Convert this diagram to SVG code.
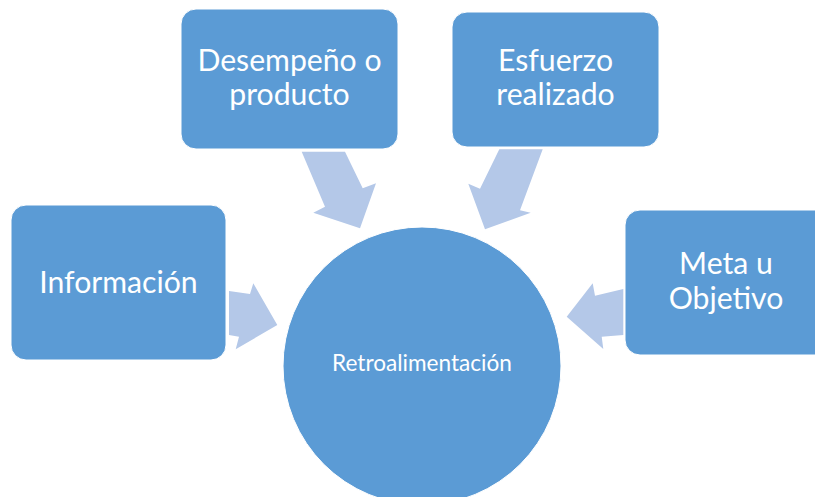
<svg xmlns="http://www.w3.org/2000/svg" width="815" height="497" viewBox="0 0 815 497">
<style>
.box{fill:#5B9BD5;stroke:#FFFFFF;stroke-width:1}
.arr{fill:#B4C8E8}
.t{font-family:Lato,"Open Sans","Liberation Sans",sans-serif;fill:#FFFFFF;text-anchor:middle;font-size:30.2px}
.tc{font-family:Lato,"Open Sans","Liberation Sans",sans-serif;fill:#FFFFFF;text-anchor:middle;font-size:22.6px}
</style>
<rect width="815" height="497" fill="#FFFFFF"/>
<g id="connectors">
<polygon class="arr" points="229,291 250,294 253.3,283.3 277.3,325 235.7,349.3 239,336.7 229,335"/>
<polygon class="arr" points="301.7,151.7 345,151.7 362.7,188.3 376,183.3 360,228.3 313.3,212.7 325,206.7"/>
<polygon class="arr" points="499.3,149.3 542.7,149.3 520,210.3 530.7,212.7 485,229.3 468.3,183.7 480,188.7"/>
<polygon class="arr" points="623.3,289 595,295.7 592.7,283.3 566.7,316.7 603.3,349 601.7,336.7 623.3,335"/>
</g>
<g id="node-retroalimentacion">
<circle cx="422" cy="366" r="139" fill="#5B9BD5" stroke="#FFFFFF" stroke-width="1"/>
<text class="tc" x="422" y="370.7">Retroalimentación</text>
</g>
<g id="node-informacion">
<rect class="box" x="11" y="205" width="215" height="155" rx="15"/>
<text class="t" x="118.5" y="292.7">Información</text>
</g>
<g id="node-desempeno">
<rect class="box" x="181" y="9" width="217" height="140" rx="15"/>
<text class="t" x="289.5" y="70.7">Desempeño o</text>
<text class="t" x="289.5" y="104.7">producto</text>
</g>
<g id="node-esfuerzo">
<rect class="box" x="452" y="12" width="207" height="135" rx="15"/>
<text class="t" x="555.5" y="70.7">Esfuerzo</text>
<text class="t" x="555.5" y="104.7">realizado</text>
</g>
<g id="node-meta">
<rect class="box" x="625" y="210" width="205" height="145" rx="15"/>
<text class="t" x="726" y="274">Meta u</text>
<text class="t" x="726" y="309">Objetivo</text>
</g>
</svg>
